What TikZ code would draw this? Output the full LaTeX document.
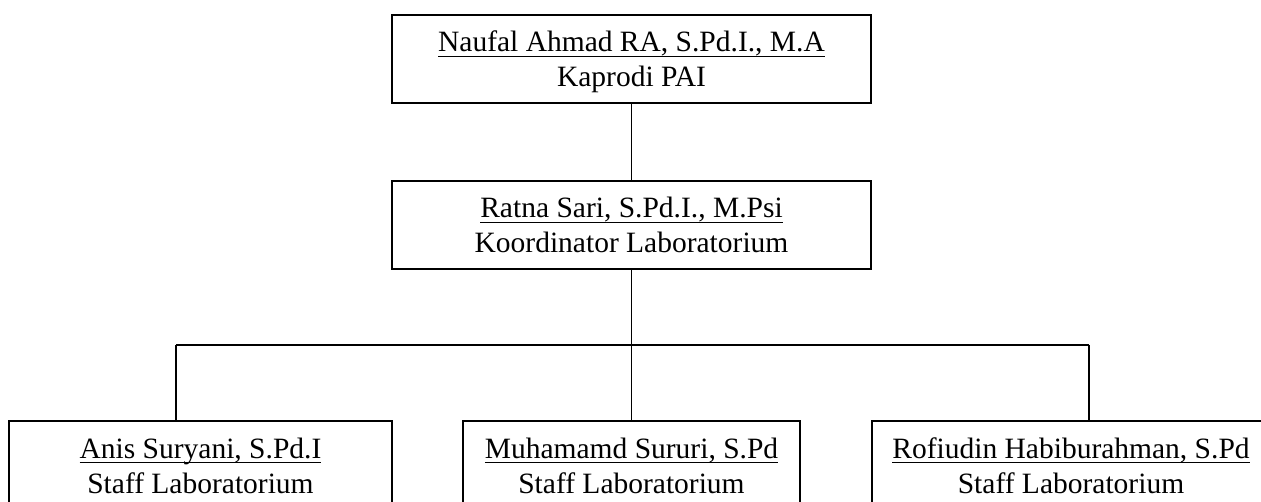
\documentclass[tikz,border=0pt]{standalone}
\usepackage{fontspec}
\setmainfont{Liberation Serif}
\newcommand\lstrut{\vrule height 28pt depth 7pt width 0pt}
\newcommand\uln[1]{\setbox0\hbox{#1}\rlap{\vrule height -3.8pt depth 5.2pt width \wd0}\box0}
\begin{document}
\begin{tikzpicture}[x=1pt,y=-1pt,
  orgbox/.style={draw=black,line width=1.6pt,inner sep=0pt,align=center,
    minimum height=88pt,font=\fontsize{29.5}{35}\selectfont},
  link/.style={draw=black,line width=1.5pt}]
\useasboundingbox (0,0) rectangle (1261,502);
\clip (0,0) rectangle (1261,502);
\node[orgbox,minimum width=479pt] (kap) at (631.5,59)
  {\lstrut\uln{Naufal Ahmad RA, S.Pd.I., M.A}\\\lstrut Kaprodi PAI};
\node[orgbox,minimum width=479pt] (kor) at (631.5,225)
  {\lstrut\uln{Ratna Sari, S.Pd.I., M.Psi}\\\lstrut Koordinator Laboratorium};
\node[orgbox,minimum width=383pt] (s1) at (200.5,465)
  {\lstrut\uln{Anis Suryani, S.Pd.I}\\\lstrut Staff Laboratorium};
\node[orgbox,minimum width=337pt] (s2) at (631.5,465)
  {\lstrut\uln{Muhamamd Sururi, S.Pd}\\\lstrut Staff Laboratorium};
\node[orgbox,minimum width=398pt] (s3) at (1071,465)
  {\lstrut\uln{Rofiudin Habiburahman, S.Pd}\\\lstrut Staff Laboratorium};
\coordinate (bl) at (176,345);
\coordinate (br) at (1089,345);
\coordinate (bm) at (kor.south |- bl);
\draw[link] (kap.south) -- (kor.north);
\draw[link] (kor.south) -- (bm);
\draw[link] (bl) -- (br);
\draw[link] (bl) -- (bl |- s1.north);
\draw[link] (bm) -- (s2.north);
\draw[link] (br) -- (br |- s3.north);
\end{tikzpicture}
\end{document}
